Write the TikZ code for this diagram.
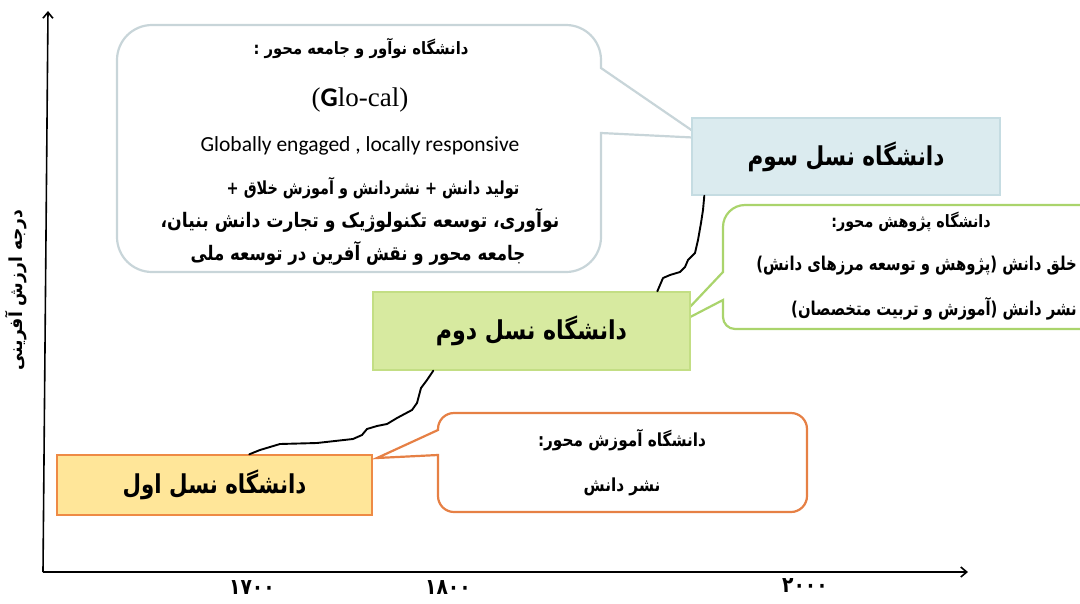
\documentclass[tikz,border=0pt]{standalone}
\usepackage{graphicx}
\usepackage{fontspec}
\setmainfont{Liberation Serif}
\newfontfamily\persianfont[Script=Arabic]{DejaVu Sans}
\newfontfamily\calibrifont{Carlito}
\TeXXeTstate=1
\usetikzlibrary{arrows.meta}
\newcommand\setsz[1]{\fontsize{#1}{#1}\selectfont}
% Persian run, bold, optionally narrowed horizontally
\newcommand\fatxt[2][1]{\scalebox{#1}[1]{\persianfont\bfseries\beginR #2\endR}}

\definecolor{genOneFill}{HTML}{FFE699}
\definecolor{genOneLine}{HTML}{EE8A45}
\definecolor{genTwoFill}{HTML}{D7EAA0}
\definecolor{genTwoLine}{HTML}{C3DE84}
\definecolor{genThreeFill}{HTML}{DBEBEF}
\definecolor{genThreeLine}{HTML}{C5DCE2}
\definecolor{noteGrey}{HTML}{C8D5D9}
\definecolor{noteGreen}{HTML}{AAD46C}
\definecolor{noteOrange}{HTML}{E68045}

\begin{document}
\begin{tikzpicture}[x=1pt,y=-1pt,
  axis/.style={line width=1.6pt, -{Straight Barb[length=6pt,width=10pt]}},
  gen/.style={draw, line width=1.4pt, inner sep=0pt},
  callout/.style={line width=2.2pt, fill=white, line join=miter},
  growth/.style={line width=1.9pt, line join=round, line cap=round},
  lbl/.style={inner sep=0pt}]

\useasboundingbox (0,0) rectangle (1080,603);
\clip (0,0) rectangle (1080,603);

% axes
\coordinate (origin) at (43,572);
\coordinate (ytop) at (48,11);
\coordinate (xend) at (968,572);
\draw[axis] (origin) -- (ytop);
\draw[axis] (origin) -- (xend);

\node[lbl, rotate=90] (ylabel) at (16,290) {\setsz{18}\fatxt[0.95]{درجه ارزش آفرینی}};
\node[lbl] (t1700) at (252,588) {\setsz{22}\fatxt[0.85]{۱۷۰۰}};
\node[lbl] (t1800) at (448,588) {\setsz{22}\fatxt[0.85]{۱۸۰۰}};
\node[lbl] (t2000) at (805,586) {\setsz{22}\fatxt[0.85]{۲۰۰۰}};

% speech callouts
\draw[callout, draw=noteGrey] (601,133) -- (703,138) -- (601,68)
  [rounded corners=35pt] -- (601,25) -- (117,25) -- (117,272) -- (601,272)
  [sharp corners] -- cycle;
\draw[callout, draw=noteGreen] (723,300) -- (671,327) -- (723,272)
  [rounded corners=22pt] -- (723,205) -- (1110,205) -- (1110,329)
  [rounded corners=12pt] -- (723,329) [sharp corners] -- cycle;
\draw[callout, draw=noteOrange] (438,455) -- (377,458) -- (438,430)
  [rounded corners=16pt] -- (438,413) -- (807,413) -- (807,512) -- (438,512)
  [sharp corners] -- cycle;

% generation boxes
\node[gen, draw=genOneLine, fill=genOneFill, minimum width=315pt, minimum height=60pt]
  (g1) at (214.5,485) {};
\node[gen, draw=genTwoLine, fill=genTwoFill, minimum width=317pt, minimum height=78pt]
  (g2) at (531.5,331) {};
\node[gen, draw=genThreeLine, fill=genThreeFill, minimum width=308pt, minimum height=77pt]
  (g3) at (846,156.5) {};
\node[lbl] (g1t) at (g1) {\setsz{26}\fatxt[0.82]{دانشگاه نسل اول}};
\node[lbl] (g2t) at (g2) {\setsz{26}\fatxt[0.85]{دانشگاه نسل دوم}};
\node[lbl] (g3t) at (g3) {\setsz{26}\fatxt[0.83]{دانشگاه نسل سوم}};

% growth curves between generations
\draw[growth] ([xshift=193pt]g1.north west) -- (260,450) -- (280,444) -- (317,443)
  -- (353,439) -- (362,435) -- (367,429) -- (377,426) -- (387,424) -- (397,418)
  -- (412,410) -- (417,403) -- (421,388) -- (427,380) -- ([xshift=61pt]g2.south west);
\draw[growth] ([xshift=285pt]g2.north west) -- (663,278) -- (670,275) -- (680,272)
  -- (685,267) -- (688,260) -- (695,253) -- (698,240) -- (701,223) -- (703,210)
  -- ([xshift=13pt]g3.south west);

% callout texts: innovative university
\node[lbl] (n1a) at (361,48) {\setsz{17}\fatxt[0.87]{دانشگاه نوآور و جامعه محور :}};
\node[lbl] (n1b) at (360,100) {\setsz{27}({\calibrifont\bfseries G}lo-cal)};
\node[lbl] (n1c) at (360,146) {\setsz{21.5}\calibrifont Globally engaged , locally responsive};
\node[lbl] (n1d) at (373,188) {\setsz{18}\fatxt[0.8]{تولید دانش + نشردانش و آموزش خلاق +}};
\node[lbl] (n1e) at (360,220) {\setsz{20}\fatxt[0.86]{نوآوری، توسعه تکنولوژیک و تجارت دانش بنیان،}};
\node[lbl] (n1f) at (358,253) {\setsz{20}\fatxt[0.83]{جامعه محور و  نقش آفرین در  توسعه ملی}};

% callout texts: research university
\node[lbl] (n2a) at (911,222) {\setsz{17}\fatxt[0.84]{دانشگاه پژوهش محور:}};
\node[lbl, anchor=east] (n2b) at (1077,266) {\setsz{19}\fatxt[0.78]{خلق  دانش (پژوهش و توسعه مرزهای دانش)}};
\node[lbl, anchor=east] (n2c) at (1077,309) {\setsz{19}\fatxt[0.78]{نشر دانش (آموزش و تربیت متخصصان)}};

% callout texts: teaching university
\node[lbl] (n3a) at (622,440) {\setsz{18}\fatxt[0.85]{دانشگاه آموزش محور:}};
\node[lbl] (n3b) at (622,487) {\setsz{18}\fatxt[0.85]{نشر  دانش}};
\end{tikzpicture}
\end{document}
